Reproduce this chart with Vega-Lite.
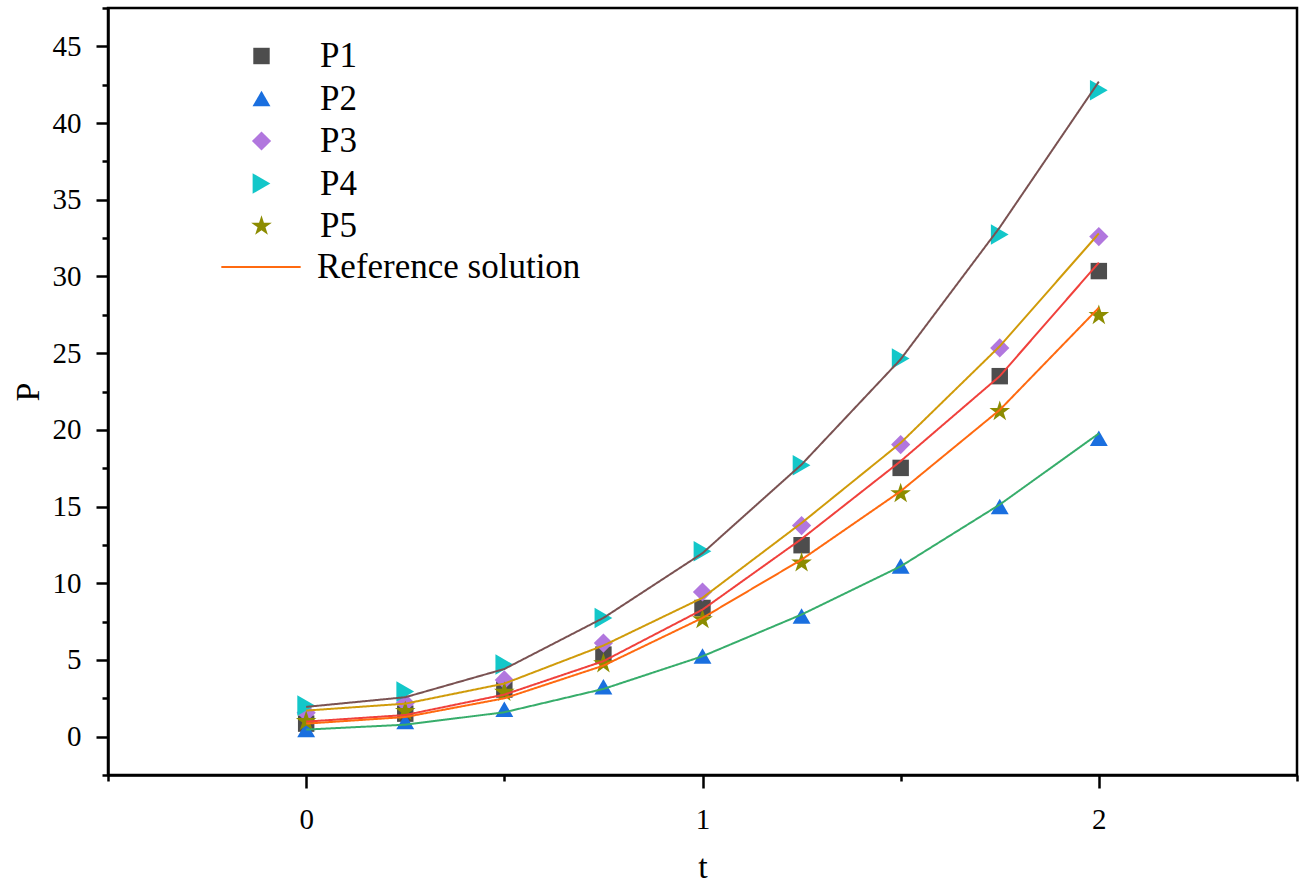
{
  "$schema": "https://vega.github.io/schema/vega-lite/v6.json",
  "width": 1189,
  "height": 767,
  "autosize": {"type": "none"},
  "padding": {"left": 108, "top": 8, "right": 11, "bottom": 108},
  "background": "white",
  "config": {
    "view": {"stroke": "black", "strokeWidth": 2.5},
    "font": "Liberation Serif",
    "axis": {
      "grid": false,
      "domainColor": "black",
      "domainWidth": 2.5,
      "tickColor": "black",
      "tickWidth": 2.5,
      "labelFont": "Liberation Serif",
      "labelFontSize": 29,
      "labelColor": "black",
      "titleFont": "Liberation Serif",
      "titleFontSize": 34,
      "titleFontWeight": "normal",
      "titleColor": "black"
    },
    "legend": {
      "labelFont": "Liberation Serif",
      "labelFontSize": 35,
      "labelColor": "black",
      "labelLimit": 500,
      "padding": 0
    }
  },
  "datasets": {
    "points": [
      {"t": 0, "P": 0.85, "series": "P1"}, {"t": 0.25, "P": 1.5, "series": "P1"}, {"t": 0.5, "P": 3.07, "series": "P1"},
      {"t": 0.75, "P": 5.35, "series": "P1"}, {"t": 1, "P": 8.39, "series": "P1"}, {"t": 1.25, "P": 12.48, "series": "P1"},
      {"t": 1.5, "P": 17.52, "series": "P1"}, {"t": 1.75, "P": 23.5, "series": "P1"}, {"t": 2, "P": 30.35, "series": "P1"},
      {"t": 0, "P": 0.47, "series": "P2"}, {"t": 0.25, "P": 0.98, "series": "P2"}, {"t": 0.5, "P": 1.79, "series": "P2"},
      {"t": 0.75, "P": 3.26, "series": "P2"}, {"t": 1, "P": 5.25, "series": "P2"}, {"t": 1.25, "P": 7.86, "series": "P2"},
      {"t": 1.5, "P": 11.12, "series": "P2"}, {"t": 1.75, "P": 15.0, "series": "P2"}, {"t": 2, "P": 19.45, "series": "P2"},
      {"t": 0, "P": 1.56, "series": "P3"}, {"t": 0.25, "P": 2.2, "series": "P3"}, {"t": 0.5, "P": 3.7, "series": "P3"},
      {"t": 0.75, "P": 6.1, "series": "P3"}, {"t": 1, "P": 9.43, "series": "P3"}, {"t": 1.25, "P": 13.76, "series": "P3"},
      {"t": 1.5, "P": 19.04, "series": "P3"}, {"t": 1.75, "P": 25.34, "series": "P3"}, {"t": 2, "P": 32.6, "series": "P3"},
      {"t": 0, "P": 2.03, "series": "P4"}, {"t": 0.25, "P": 2.95, "series": "P4"}, {"t": 0.5, "P": 4.7, "series": "P4"},
      {"t": 0.75, "P": 7.74, "series": "P4"}, {"t": 1, "P": 12.09, "series": "P4"}, {"t": 1.25, "P": 17.69, "series": "P4"},
      {"t": 1.5, "P": 24.65, "series": "P4"}, {"t": 1.75, "P": 32.74, "series": "P4"}, {"t": 2, "P": 42.14, "series": "P4"},
      {"t": 0, "P": 1.0, "series": "P5"}, {"t": 0.25, "P": 1.65, "series": "P5"}, {"t": 0.5, "P": 2.9, "series": "P5"},
      {"t": 0.75, "P": 4.76, "series": "P5"}, {"t": 1, "P": 7.63, "series": "P5"}, {"t": 1.25, "P": 11.33, "series": "P5"},
      {"t": 1.5, "P": 15.85, "series": "P5"}, {"t": 1.75, "P": 21.2, "series": "P5"}, {"t": 2, "P": 27.46, "series": "P5"}
    ],
    "lines": [
      {"t": 0, "P": 0.98, "curve": "P1", "label": "Reference solution"}, {"t": 0.25, "P": 1.41, "curve": "P1", "label": "Reference solution"},
      {"t": 0.5, "P": 2.74, "curve": "P1", "label": "Reference solution"}, {"t": 0.75, "P": 4.92, "curve": "P1", "label": "Reference solution"},
      {"t": 1, "P": 8.28, "curve": "P1", "label": "Reference solution"}, {"t": 1.25, "P": 12.89, "curve": "P1", "label": "Reference solution"},
      {"t": 1.5, "P": 17.96, "curve": "P1", "label": "Reference solution"}, {"t": 1.75, "P": 23.5, "curve": "P1", "label": "Reference solution"},
      {"t": 2, "P": 30.9, "curve": "P1", "label": "Reference solution"},
      {"t": 0, "P": 0.46, "curve": "P2", "label": "Reference solution"}, {"t": 0.25, "P": 0.78, "curve": "P2", "label": "Reference solution"},
      {"t": 0.5, "P": 1.59, "curve": "P2", "label": "Reference solution"}, {"t": 0.75, "P": 3.11, "curve": "P2", "label": "Reference solution"},
      {"t": 1, "P": 5.24, "curve": "P2", "label": "Reference solution"}, {"t": 1.25, "P": 7.96, "curve": "P2", "label": "Reference solution"},
      {"t": 1.5, "P": 11.1, "curve": "P2", "label": "Reference solution"}, {"t": 1.75, "P": 15.13, "curve": "P2", "label": "Reference solution"},
      {"t": 2, "P": 19.76, "curve": "P2", "label": "Reference solution"},
      {"t": 0, "P": 1.7, "curve": "P3", "label": "Reference solution"}, {"t": 0.25, "P": 2.15, "curve": "P3", "label": "Reference solution"},
      {"t": 0.5, "P": 3.46, "curve": "P3", "label": "Reference solution"}, {"t": 0.75, "P": 5.94, "curve": "P3", "label": "Reference solution"},
      {"t": 1, "P": 9.05, "curve": "P3", "label": "Reference solution"}, {"t": 1.25, "P": 13.93, "curve": "P3", "label": "Reference solution"},
      {"t": 1.5, "P": 19.15, "curve": "P3", "label": "Reference solution"}, {"t": 1.75, "P": 25.45, "curve": "P3", "label": "Reference solution"},
      {"t": 2, "P": 32.8, "curve": "P3", "label": "Reference solution"},
      {"t": 0, "P": 1.94, "curve": "P4", "label": "Reference solution"}, {"t": 0.25, "P": 2.57, "curve": "P4", "label": "Reference solution"},
      {"t": 0.5, "P": 4.41, "curve": "P4", "label": "Reference solution"}, {"t": 0.75, "P": 7.74, "curve": "P4", "label": "Reference solution"},
      {"t": 1, "P": 11.96, "curve": "P4", "label": "Reference solution"}, {"t": 1.25, "P": 17.74, "curve": "P4", "label": "Reference solution"},
      {"t": 1.5, "P": 24.6, "curve": "P4", "label": "Reference solution"}, {"t": 1.75, "P": 33.2, "curve": "P4", "label": "Reference solution"},
      {"t": 2, "P": 42.7, "curve": "P4", "label": "Reference solution"},
      {"t": 0, "P": 0.85, "curve": "P5", "label": "Reference solution"}, {"t": 0.25, "P": 1.28, "curve": "P5", "label": "Reference solution"},
      {"t": 0.5, "P": 2.5, "curve": "P5", "label": "Reference solution"}, {"t": 0.75, "P": 4.63, "curve": "P5", "label": "Reference solution"},
      {"t": 1, "P": 7.74, "curve": "P5", "label": "Reference solution"}, {"t": 1.25, "P": 11.54, "curve": "P5", "label": "Reference solution"},
      {"t": 1.5, "P": 16.0, "curve": "P5", "label": "Reference solution"}, {"t": 1.75, "P": 21.3, "curve": "P5", "label": "Reference solution"},
      {"t": 2, "P": 27.96, "curve": "P5", "label": "Reference solution"}
    ]
  },
  "encoding": {
    "x": {
      "field": "t",
      "type": "quantitative",
      "scale": {"domain": [-0.5, 2.5], "nice": false, "zero": false},
      "axis": {
        "title": "t",
        "values": [-0.5, 0, 0.5, 1, 1.5, 2, 2.5],
        "labelExpr": "datum.value % 1 === 0 ? format(datum.value, 'd') : ''",
        "tickSize": {"condition": {"test": "datum.value % 1 === 0", "value": 13}, "value": 6},
        "labelFont": "Liberation Serif",
        "titleFont": "Liberation Serif",
        "labelFontSize": 29,
        "titleFontSize": 34,
        "labelPadding": 17,
        "titlePadding": 16
      }
    },
    "y": {
      "field": "P",
      "type": "quantitative",
      "scale": {"domain": [-2.5, 47.5], "nice": false, "zero": false},
      "axis": {
        "title": "P",
        "values": [-2.5, 0, 2.5, 5, 7.5, 10, 12.5, 15, 17.5, 20, 22.5, 25, 27.5, 30, 32.5, 35, 37.5, 40, 42.5, 45, 47.5],
        "labelExpr": "datum.value % 5 === 0 ? format(datum.value, 'd') : ''",
        "tickSize": {"condition": {"test": "datum.value % 5 === 0", "value": 12}, "value": 6},
        "labelFont": "Liberation Serif",
        "titleFont": "Liberation Serif",
        "labelFontSize": 29,
        "titleFontSize": 34,
        "labelPadding": 15,
        "titlePadding": 7
      }
    }
  },
  "layer": [
    {
      "data": {"name": "points"},
      "mark": {"type": "point", "filled": true, "opacity": 1, "strokeWidth": 0},
      "encoding": {
        "color": {
          "field": "series",
          "type": "nominal",
          "scale": {"domain": ["P1", "P2", "P3", "P4", "P5"], "range": ["#4d4d4d", "#1a6fdf", "#b177de", "#13c7c9", "#8c8c00"]},
          "legend": {
            "title": null,
            "orient": "none",
            "legendX": 136,
            "legendY": 30.5,
            "direction": "vertical",
            "labelOffset": 41,
            "rowPadding": 6.5,
            "labelFont": "Liberation Serif",
            "labelFontSize": 35,
            "symbolStrokeWidth": 0,
            "symbolOpacity": 1
          }
        },
        "shape": {
          "field": "series",
          "type": "nominal",
          "scale": {"domain": ["P1", "P2", "P3", "P4", "P5"], "range": ["square", "triangle-up", "diamond", "triangle-right", "M0,-1L0.2245,-0.309L0.951,-0.309L0.363,0.118L0.588,0.809L0,0.382L-0.588,0.809L-0.363,0.118L-0.951,-0.309L-0.2245,-0.309Z"]}
        },
        "size": {
          "field": "series",
          "type": "nominal",
          "scale": {"domain": ["P1", "P2", "P3", "P4", "P5"], "range": [270, 470, 500, 440, 480]}
        }
      }
    },
    {
      "data": {"name": "lines"},
      "mark": {"type": "line", "strokeWidth": 2},
      "encoding": {
        "detail": {"field": "curve", "type": "nominal"},
        "stroke": {
          "field": "curve",
          "type": "nominal",
          "scale": {"domain": ["P1", "P2", "P3", "P4", "P5"], "range": ["#f0413c", "#37ad6b", "#d09b0a", "#7a5252", "#ff6a10"]},
          "legend": null
        },
        "strokeDash": {
          "field": "label",
          "type": "nominal",
          "scale": {"range": [[1, 0]]},
          "legend": {
            "title": null,
            "orient": "none",
            "legendX": 112,
            "legendY": 218,
            "symbolType": "stroke",
            "symbolSize": 6300,
            "symbolStrokeColor": "#ff6a10",
            "symbolStrokeWidth": 2,
            "labelOffset": 15,
            "labelFont": "Liberation Serif",
            "labelFontSize": 35,
            "labelLimit": 500
          }
        }
      }
    }
  ]
}
